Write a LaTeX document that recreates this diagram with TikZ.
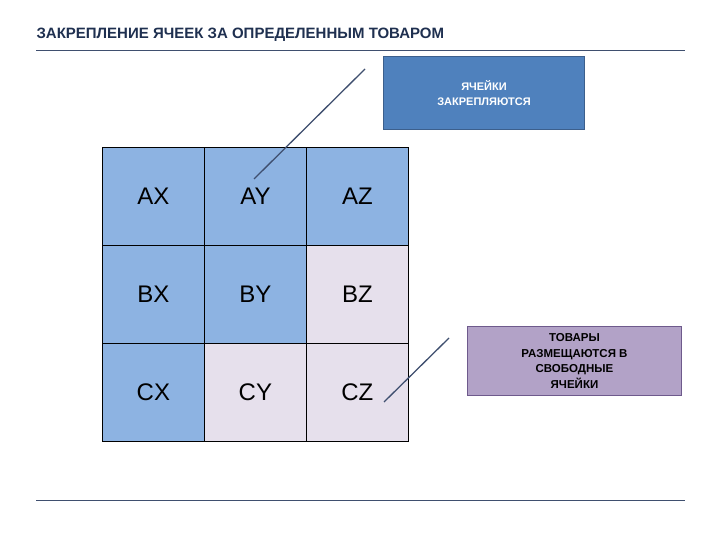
\documentclass[tikz,border=0pt]{standalone}
\usepackage{fontspec}
\setmainfont{Liberation Sans}
\begin{document}
\begin{tikzpicture}[x=1pt,y=-1pt,
 cellb/.style={draw=black,line width=0.8pt,fill=cb,minimum width=102pt,minimum height=98pt,font=\fontsize{24}{26}\selectfont,anchor=north west,inner sep=0pt},
 celll/.style={cellb,fill=cl},
 lead/.style={draw=ld,line width=1.3pt}]
\definecolor{cb}{HTML}{8DB3E2}\definecolor{cl}{HTML}{E6E0EC}
\definecolor{ld}{HTML}{3F4F6F}\definecolor{tc}{HTML}{1F3050}
\definecolor{tb}{RGB}{79,129,189}\definecolor{tbd}{RGB}{60,95,140}
\definecolor{pb}{RGB}{178,162,199}\definecolor{pbd}{RGB}{110,90,140}
\useasboundingbox (0,0) rectangle (720,540);
\fill[white] (0,0) rectangle (720,540);
\node[anchor=west,font=\bfseries\fontsize{15}{17}\selectfont,text=tc] (title) at (33,35) {ЗАКРЕПЛЕНИЕ ЯЧЕЕК ЗА ОПРЕДЕЛЕННЫМ ТОВАРОМ};
\draw[draw=ld,line width=0.6pt] (36,50) coordinate (r1) -- (685,50) coordinate (r2);
\draw[draw=ld,line width=0.6pt] (36,500) coordinate (r3) -- (685,500) coordinate (r4);
\node[cellb] (ax) at (102,147) {AX};
\node[cellb] (ay) at (204,147) {AY};
\node[cellb] (az) at (306,147) {AZ};
\node[cellb] (bx) at (102,245) {BX};
\node[cellb] (by) at (204,245) {BY};
\node[celll] (bz) at (306,245) {BZ};
\node[cellb] (cx) at (102,343) {CX};
\node[celll] (cy) at (204,343) {CY};
\node[celll] (cz) at (306,343) {CZ};
\node[draw=tbd,fill=tb,line width=1pt,minimum width=201pt,minimum height=73pt,anchor=north west,text=white,font=\bfseries\fontsize{11}{15}\selectfont,align=center] (top) at (383,56) {ЯЧЕЙКИ\\ЗАКРЕПЛЯЮТСЯ};
\node[draw=pbd,fill=pb,line width=1pt,minimum width=214pt,minimum height=69pt,anchor=north west,font=\bfseries\fontsize{11.5}{15.5}\selectfont,align=center,inner sep=0pt] (rt) at (467,326) {ТОВАРЫ\\РАЗМЕЩАЮТСЯ В\\СВОБОДНЫЕ\\ЯЧЕЙКИ};
\coordinate (t1) at (365,69); \coordinate (t2) at (254,179);
\coordinate (s1) at (449,338); \coordinate (s2) at (384,402);
\draw[lead] (t1) -- (t2);
\draw[lead] (s1) -- (s2);
\end{tikzpicture}
\end{document}
